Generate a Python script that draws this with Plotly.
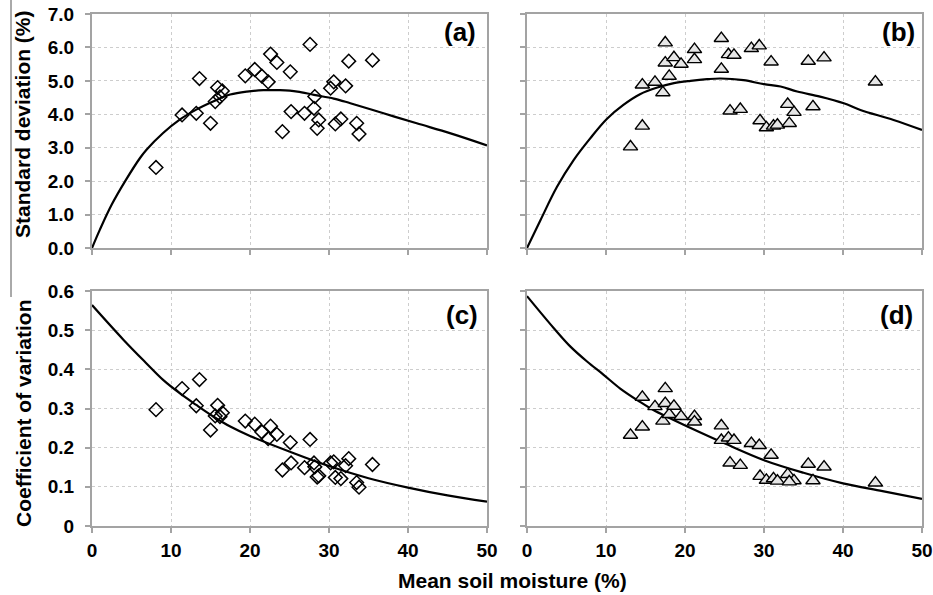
import plotly.graph_objects as go

# ---- data ----
a_x = [8.1, 11.4, 13.6, 13.2, 15.0, 15.6, 15.9, 16.2, 16.5, 19.4, 20.6, 21.5, 22.3, 22.6, 23.4, 25.1, 24.1,
       25.2, 26.9, 27.6, 28.1, 28.2, 28.7, 28.5, 30.2, 30.6, 30.8, 31.5, 32.1, 32.5, 33.5, 33.8, 35.5]
a_sd = [2.41, 3.98, 5.07, 4.03, 3.73, 4.38, 4.80, 4.52, 4.70, 5.15, 5.34, 5.14, 4.97, 5.80, 5.55, 5.27, 3.48,
        4.08, 4.03, 6.09, 4.18, 4.53, 3.83, 3.58, 4.78, 4.97, 3.71, 3.86, 4.85, 5.59, 3.73, 3.41, 5.62]
c_cv = [0.297, 0.351, 0.374, 0.307, 0.245, 0.281, 0.308, 0.279, 0.289, 0.268, 0.260, 0.240, 0.223, 0.255,
        0.234, 0.213, 0.143, 0.161, 0.149, 0.221, 0.161, 0.151, 0.128, 0.125, 0.161, 0.164, 0.124, 0.121,
        0.154, 0.172, 0.111, 0.099, 0.157]

b_x = [13.1, 14.6, 14.6, 16.2, 17.2, 17.5, 17.5, 18.0, 18.6, 19.5, 21.2, 21.2, 24.6, 24.6, 25.5, 26.2, 25.7,
       27.0, 28.4, 29.4, 29.5, 30.3, 30.9, 31.2, 31.7, 33.0, 33.8, 33.2, 35.6, 36.2, 37.6, 44.1]
b_sd = [3.03, 3.65, 4.88, 4.96, 4.65, 6.14, 5.54, 5.14, 5.70, 5.50, 5.94, 5.64, 6.27, 5.35, 5.79, 5.77, 4.10,
        4.15, 5.97, 6.05, 3.81, 3.60, 5.57, 3.65, 3.68, 4.30, 4.06, 3.73, 5.59, 4.23, 5.69, 4.97]
d_cv = [0.232, 0.253, 0.329, 0.305, 0.268, 0.351, 0.313, 0.285, 0.306, 0.280, 0.280, 0.266, 0.256, 0.219,
        0.225, 0.219, 0.161, 0.155, 0.211, 0.206, 0.127, 0.117, 0.181, 0.121, 0.115, 0.132, 0.116, 0.113,
        0.158, 0.116, 0.151, 0.110]

a_fit_x = [0, 1.0, 2.5, 4.2, 6.1, 6.9, 9.0, 11.1, 13.2, 15.4, 17.5, 19.6, 21.7, 23.8, 26.0, 28.1, 30.6,
           32.7, 36.9, 41.1, 45.4, 50]
a_fit_y = [0, 0.55, 1.30, 2.00, 2.70, 2.94, 3.44, 3.84, 4.14, 4.39, 4.59, 4.68, 4.72, 4.72, 4.68, 4.58, 4.47,
           4.33, 4.03, 3.73, 3.43, 3.07]
b_fit_x = [0, 1.7, 3.8, 5.9, 8.0, 10.1, 12.2, 14.3, 16.5, 18.6, 20.7, 22.8, 24.5, 27.4, 30.0, 32.1, 34.2,
           37.1, 40.1, 42.2, 46.4, 50]
b_fit_y = [0, 0.83, 1.83, 2.63, 3.28, 3.86, 4.28, 4.60, 4.80, 4.93, 5.00, 5.05, 5.07, 5.02, 4.90, 4.83, 4.68,
           4.53, 4.33, 4.13, 3.83, 3.53]
c_fit_x = [0, 4.0, 6.9, 9.0, 11.1, 13.2, 15.4, 17.5, 20, 25, 30, 35, 40, 45, 50]
c_fit_y = [0.564, 0.475, 0.415, 0.373, 0.339, 0.309, 0.279, 0.254, 0.230, 0.190, 0.153, 0.122, 0.098, 0.078,
           0.062]
d_fit_x = [0, 3.4, 5.5, 7.6, 9.7, 11.8, 14.3, 16.0, 18.1, 20.3, 25, 30, 35, 40, 45, 50]
d_fit_y = [0.587, 0.505, 0.458, 0.420, 0.386, 0.351, 0.317, 0.296, 0.275, 0.254, 0.211, 0.168, 0.136, 0.109,
           0.089, 0.069]

x_ticks = [0, 10, 20, 30, 40, 50]
x_labels = ["0", "10", "20", "30", "40", "50"]
sd_ticks = [0, 1, 2, 3, 4, 5, 6, 7]
sd_labels = ["0.0", "1.0", "2.0", "3.0", "4.0", "5.0", "6.0", "7.0"]
cv_ticks = [0, 0.1, 0.2, 0.3, 0.4, 0.5, 0.6]
cv_labels = ["0", "0.1", "0.2", "0.3", "0.4", "0.5", "0.6"]
panel_labels = ["(a)", "(b)", "(c)", "(d)"]

FONT = "Liberation Sans"
fig = go.Figure()

diamond = dict(symbol="diamond-open", size=10.5, color="black", line=dict(color="black", width=1.5))
tri = dict(symbol="triangle-up", size=12.5, color="#e6e6e6", line=dict(color="black", width=1.4))
fit_line = dict(color="black", width=2.2, shape="spline")

fig.add_trace(go.Scatter(x=a_x, y=a_sd, mode="markers", marker=diamond, xaxis="x", yaxis="y"))
fig.add_trace(go.Scatter(x=a_fit_x, y=a_fit_y, mode="lines", line=fit_line, xaxis="x", yaxis="y"))
fig.add_trace(go.Scatter(x=b_fit_x, y=b_fit_y, mode="lines", line=fit_line, xaxis="x2", yaxis="y2"))
fig.add_trace(go.Scatter(x=b_x, y=b_sd, mode="markers", marker=tri, xaxis="x2", yaxis="y2"))
fig.add_trace(go.Scatter(x=a_x, y=c_cv, mode="markers", marker=diamond, xaxis="x3", yaxis="y3"))
fig.add_trace(go.Scatter(x=c_fit_x, y=c_fit_y, mode="lines", line=fit_line, xaxis="x3", yaxis="y3"))
fig.add_trace(go.Scatter(x=d_fit_x, y=d_fit_y, mode="lines", line=fit_line, xaxis="x4", yaxis="y4"))
fig.add_trace(go.Scatter(x=b_x, y=d_cv, mode="markers", marker=tri, xaxis="x4", yaxis="y4"))

W, H = 933, 595
xl = [92 / W, 487 / W]
xr = [527 / W, 922 / W]
yt = [(H - 248) / H, (H - 14) / H]
yb = [(H - 526) / H, (H - 291) / H]


def b(s):
    return "<b>" + s + "</b>"


tickfont = dict(family=FONT, size=19, color="black")
common = dict(showline=True, linecolor="#a3a3a3", linewidth=2, mirror=True,
              showgrid=True, gridcolor="#cdcdcd", griddash="dot", gridwidth=1,
              ticks="outside", ticklen=5, tickcolor="#a3a3a3", tickwidth=1.5,
              zeroline=False, tickfont=tickfont, fixedrange=True, automargin=False)


def xax(dom, anchor, labels):
    return dict(domain=dom, anchor=anchor, range=[0, 50], tickvals=x_ticks,
                ticktext=[b(t) for t in x_labels],
                showticklabels=labels, ticklabelstandoff=1, **common)


def yax(dom, anchor, vals, texts, rng, labels):
    return dict(domain=dom, anchor=anchor, range=rng, tickvals=vals, ticktext=[b(t) for t in texts],
                showticklabels=labels, ticklabelstandoff=7, **common)


fig.update_layout(
    width=W, height=H, margin=dict(l=0, r=0, t=0, b=0, autoexpand=False),
    paper_bgcolor="white", plot_bgcolor="white", showlegend=False,
    xaxis=xax(xl, "y", False),
    yaxis=yax(yt, "x", sd_ticks, sd_labels, [0, 7], True),
    xaxis2=xax(xr, "y2", False),
    yaxis2=yax(yt, "x2", sd_ticks, sd_labels, [0, 7], False),
    xaxis3=xax(xl, "y3", True),
    yaxis3=yax(yb, "x3", cv_ticks, cv_labels, [0, 0.6], True),
    xaxis4=xax(xr, "y4", True),
    yaxis4=yax(yb, "x4", cv_ticks, cv_labels, [0, 0.6], False),
)

bold = dict(family=FONT, color="black")
ann = []
pos = [(478, 32), (917, 32), (480, 315), (915, 315)]
for lab, (px, py) in zip(panel_labels, pos):
    ann.append(dict(text=b(lab), x=px / W, y=(H - py) / H, xref="paper", yref="paper",
                    xanchor="right", yanchor="middle", showarrow=False, font=dict(size=26, **bold)))
ann.append(dict(text=b("Standard deviation (%)"), x=22 / W, y=(H - 124) / H, xref="paper", yref="paper",
                xanchor="center", yanchor="middle",
                textangle=-90, showarrow=False, font=dict(size=21, **bold)))
ann.append(dict(text=b("Coefficient of variation"), x=23 / W, y=(H - 413) / H, xref="paper", yref="paper",
                xanchor="center", yanchor="middle",
                textangle=-90, showarrow=False, font=dict(size=21, **bold)))
ann.append(dict(text=b("Mean soil moisture (%)"), x=512 / W, y=(H - 580) / H, xref="paper", yref="paper",
                xanchor="center", yanchor="middle",
                showarrow=False, font=dict(size=21, **bold)))
fig.update_layout(annotations=ann)

fig.add_shape(type="line", xref="paper", yref="paper", x0=11 / W, x1=11 / W, y0=1, y1=(H - 297) / H,
              line=dict(color="#555555", width=1))

fig.write_html("out.html", config={"displayModeBar": False},
               post_script="document.body.style.margin='0';document.body.style.padding='0';")
